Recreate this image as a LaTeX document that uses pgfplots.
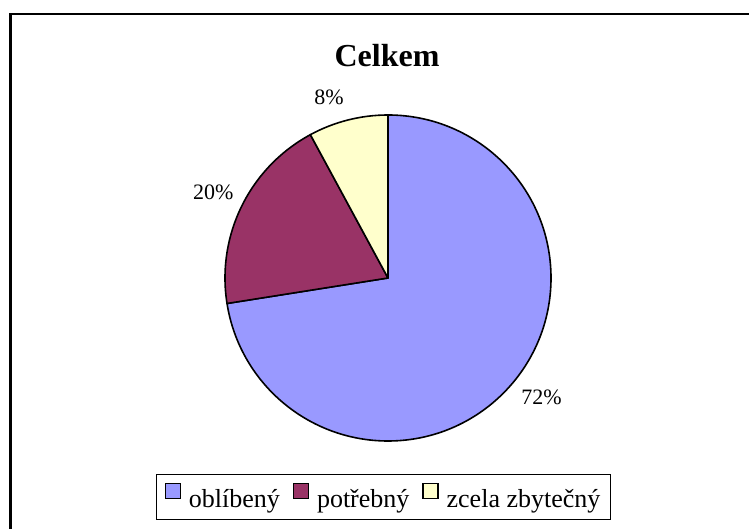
\documentclass[border=0pt]{standalone}
\usepackage{fontspec}
\setmainfont{Liberation Serif}
\usepackage{pgfplots}
\usepackage{pgfplotstable}
\pgfplotsset{compat=1.18}
\definecolor{sliceA}{HTML}{9999FF}
\definecolor{sliceB}{HTML}{993366}
\definecolor{sliceC}{HTML}{FFFFCC}

\pgfplotstableread{
name value color label
oblibeny 72.5 sliceA 72
potrebny 19.6 sliceB 20
zbytecny 7.9 sliceC 8
}\pietable

\begin{document}
\begin{tikzpicture}
\path[use as bounding box] (0,0) rectangle (749pt,529pt);
\draw[line width=2.5pt] (10.5pt,0pt) -- (10.5pt,515pt) -- (749pt,515pt);
\begin{axis}[
  at={(388pt,251pt)}, anchor=center,
  x=1pt, y=1pt, xmin=-163, xmax=163, ymin=-163, ymax=163,
  hide axis, clip=false,
  legend style={at={(axis cs:-4.5,-219)}, anchor=center, draw=black, line width=1.2pt,
    legend columns=-1, font=\fontsize{26}{30}\selectfont,
    inner xsep=8pt, inner ysep=8pt,
    /tikz/every even column/.append style={column sep=11pt}},
  legend image code/.code={\draw[#1,draw=black,line width=1.2pt] (0pt,1pt) rectangle (15pt,16pt);
    \path (21pt,0pt);},
]
\addlegendimage{fill=sliceA}
\addlegendentry{oblíbený}
\addlegendimage{fill=sliceB}
\addlegendentry{potřebný}
\addlegendimage{fill=sliceC}
\addlegendentry{zcela zbytečný}
\pgfplotsextra{%
  \xdef\cumul{0}%
  \foreach \i in {0,1,2}{%
    \pgfplotstablegetelem{\i}{value}\of\pietable\let\v\pgfplotsretval
    \pgfplotstablegetelem{\i}{color}\of\pietable\let\col\pgfplotsretval
    \pgfplotstablegetelem{\i}{label}\of\pietable\let\lab\pgfplotsretval
    \pgfmathsetmacro\a{90-3.6*\cumul}%
    \pgfmathsetmacro\b{90-3.6*(\cumul+\v)}%
    \pgfmathsetmacro\m{(\a+\b)/2}%
    \pgfmathsetmacro\an{\m+180}%
    \filldraw[fill=\col, draw=black, line width=1.6pt, line join=round]
      (axis cs:0,0) -- (axis cs:{163*cos(\a)},{163*sin(\a)})
      arc[start angle=\a, end angle=\b, radius=163pt] -- cycle;
    \pgfmathsetmacro\ad{\m+4*(\i==2)+3*(\i==0)}%
    \pgfmathsetmacro\rd{181-6*(\i==1)}%
    \node[font=\fontsize{22}{26}\selectfont, anchor=\an, inner sep=1pt]
      at (axis cs:{\rd*cos(\ad)},{\rd*sin(\ad)}) {\lab\%};
    \pgfmathsetmacro\t{\cumul+\v}\xdef\cumul{\t}%
  }%
}
\node[font=\bfseries\fontsize{32}{38}\selectfont] at (axis cs:-1,222) {Celkem};
\end{axis}
\end{tikzpicture}
\end{document}
